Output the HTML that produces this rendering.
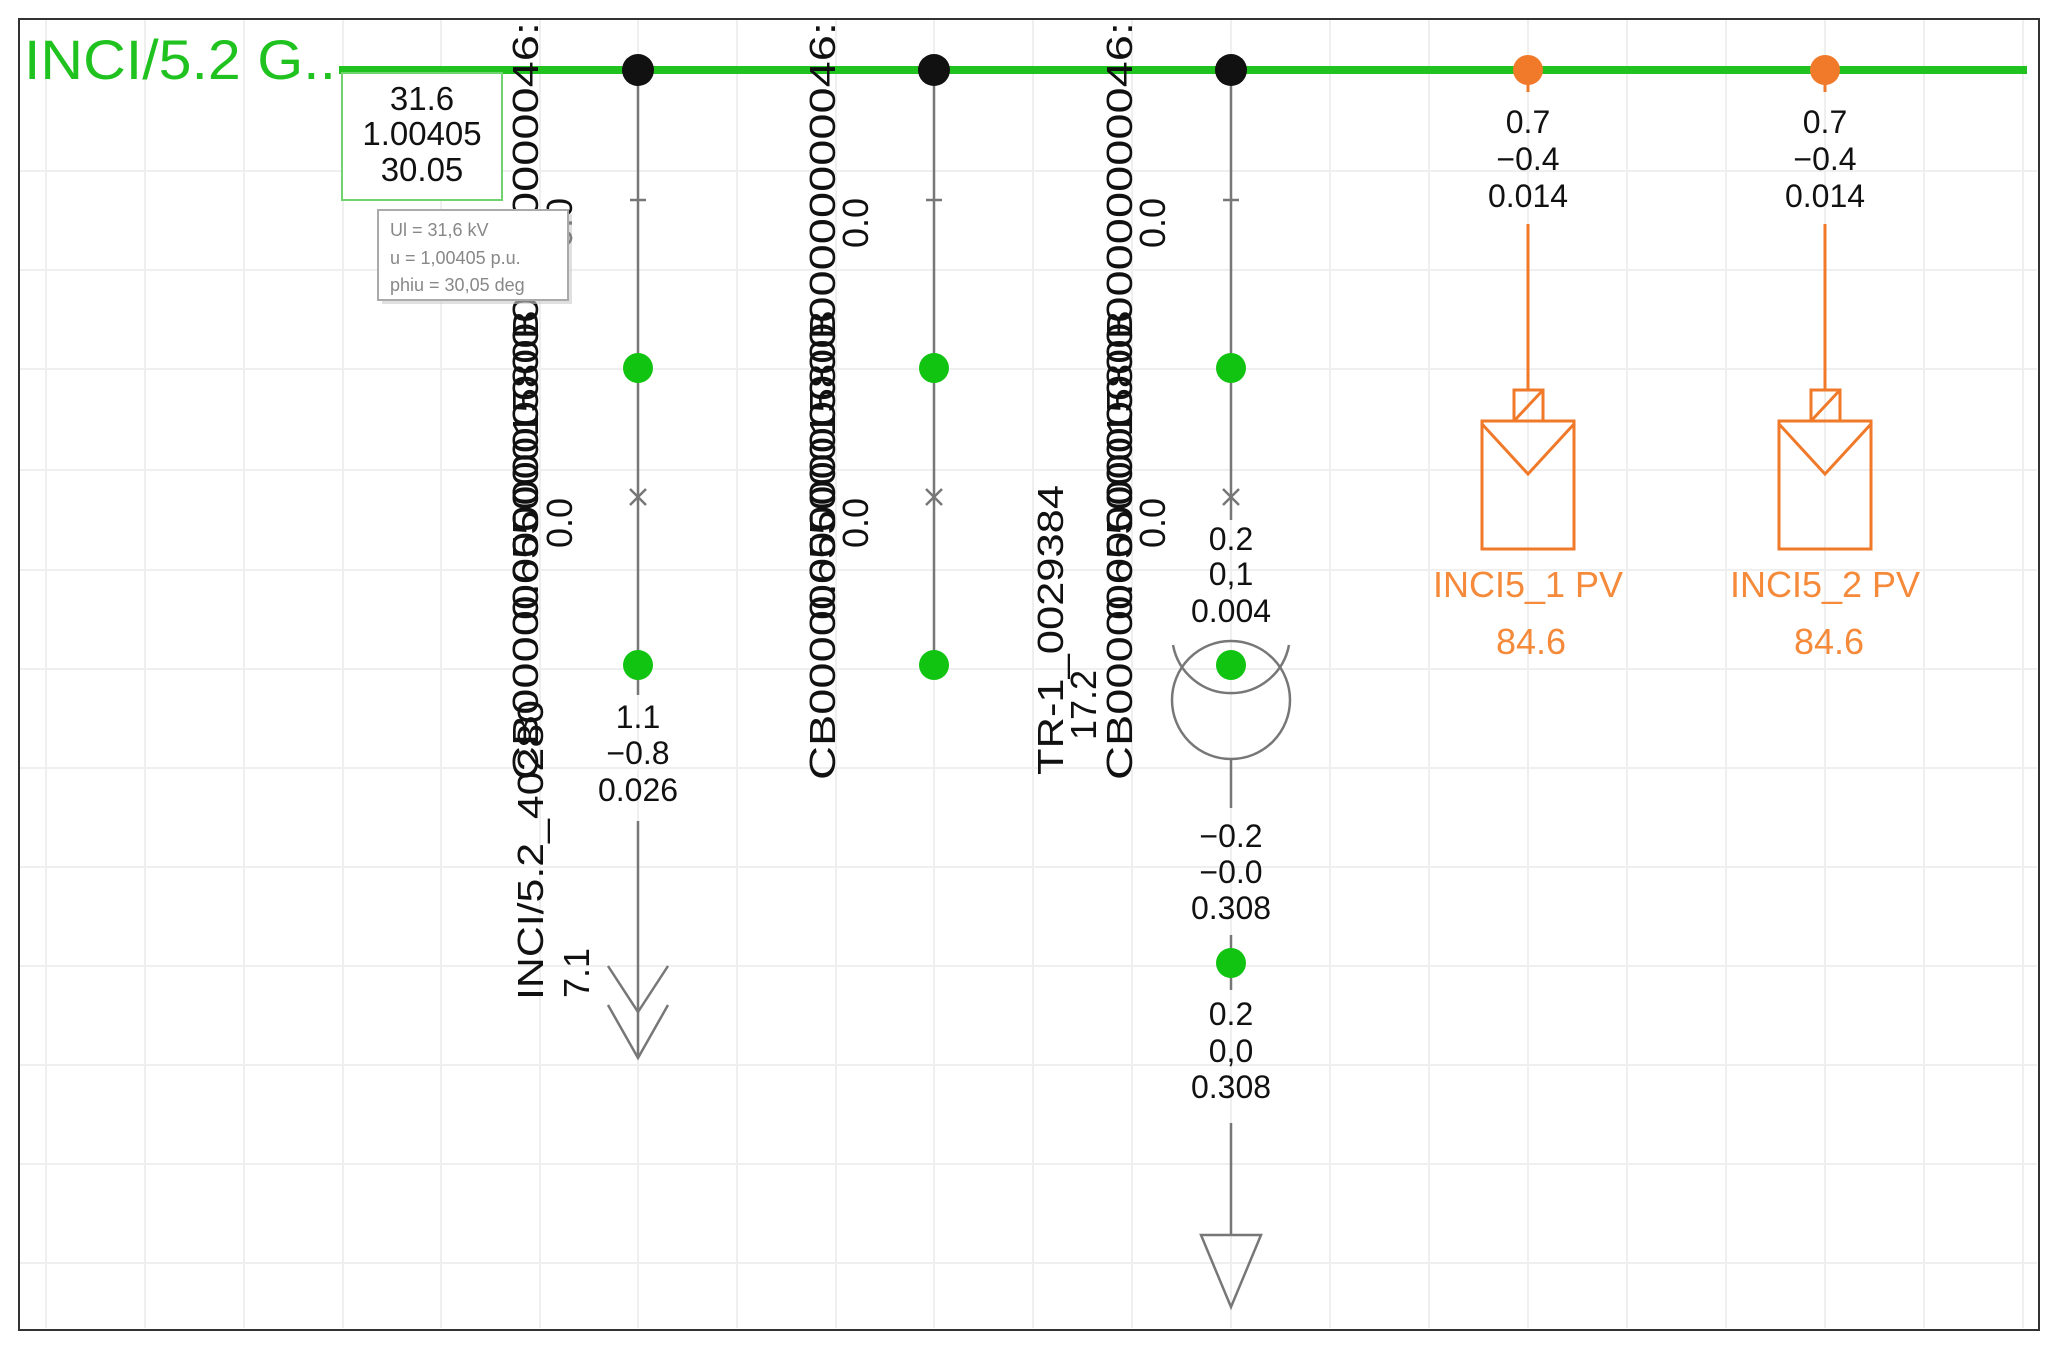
<!DOCTYPE html>
<html><head><meta charset="utf-8"><style>
html,body{margin:0;padding:0;background:#fff;}
svg{display:block;}
text{font-family:"Liberation Sans",sans-serif;}
</style></head><body>
<svg width="2060" height="1354" viewBox="0 0 2060 1354" xmlns="http://www.w3.org/2000/svg">
<rect width="2060" height="1354" fill="#fff"/>
<g stroke="#efefef" stroke-width="2">
<line x1="46" y1="20" x2="46" y2="1328"/><line x1="145" y1="20" x2="145" y2="1328"/><line x1="244" y1="20" x2="244" y2="1328"/><line x1="343" y1="20" x2="343" y2="1328"/><line x1="441" y1="20" x2="441" y2="1328"/><line x1="540" y1="20" x2="540" y2="1328"/><line x1="638" y1="20" x2="638" y2="1328"/><line x1="737" y1="20" x2="737" y2="1328"/><line x1="836" y1="20" x2="836" y2="1328"/><line x1="934" y1="20" x2="934" y2="1328"/><line x1="1033" y1="20" x2="1033" y2="1328"/><line x1="1132" y1="20" x2="1132" y2="1328"/><line x1="1231" y1="20" x2="1231" y2="1328"/><line x1="1330" y1="20" x2="1330" y2="1328"/><line x1="1429" y1="20" x2="1429" y2="1328"/><line x1="1528" y1="20" x2="1528" y2="1328"/><line x1="1627" y1="20" x2="1627" y2="1328"/><line x1="1726" y1="20" x2="1726" y2="1328"/><line x1="1825" y1="20" x2="1825" y2="1328"/><line x1="1924" y1="20" x2="1924" y2="1328"/><line x1="2023" y1="20" x2="2023" y2="1328"/>
<line x1="20" y1="171" x2="2037" y2="171"/><line x1="20" y1="270" x2="2037" y2="270"/><line x1="20" y1="369" x2="2037" y2="369"/><line x1="20" y1="470" x2="2037" y2="470"/><line x1="20" y1="570" x2="2037" y2="570"/><line x1="20" y1="669" x2="2037" y2="669"/><line x1="20" y1="768" x2="2037" y2="768"/><line x1="20" y1="867" x2="2037" y2="867"/><line x1="20" y1="966" x2="2037" y2="966"/><line x1="20" y1="1065" x2="2037" y2="1065"/><line x1="20" y1="1164" x2="2037" y2="1164"/><line x1="20" y1="1263" x2="2037" y2="1263"/>
</g>
<rect x="19" y="19" width="2020" height="1311" fill="none" stroke="#333" stroke-width="2"/>

<line x1="339" y1="70" x2="2027" y2="70" stroke="#1fc21f" stroke-width="8"/>
<text x="24" y="79" font-size="56" fill="#1fc21f" textLength="312" lengthAdjust="spacingAndGlyphs">INCI/5.2 G..</text>

<rect x="342" y="73" width="160" height="127" fill="#fff" stroke="#6fd36f" stroke-width="2"/>
<g font-size="33" fill="#111" text-anchor="middle">
<text x="422" y="110">31.6</text><text x="422" y="145">1.00405</text><text x="422" y="181">30.05</text>
</g>

<g font-size="36" fill="#111">
<text transform="translate(538,780) rotate(-90)" textLength="758" lengthAdjust="spacingAndGlyphs">CB00000000000000000000000046:</text>
<text transform="translate(538,620) rotate(-90)" textLength="310" lengthAdjust="spacingAndGlyphs">0.6550001580B</text>
<text transform="translate(572,248) rotate(-90)">0.0</text>
<text transform="translate(572,548) rotate(-90)">0.0</text>
<text transform="translate(835,780) rotate(-90)" textLength="758" lengthAdjust="spacingAndGlyphs">CB00000000000000000000000046:</text>
<text transform="translate(835,620) rotate(-90)" textLength="310" lengthAdjust="spacingAndGlyphs">0.6550001580B</text>
<text transform="translate(868,248) rotate(-90)">0.0</text>
<text transform="translate(868,548) rotate(-90)">0.0</text>
<text transform="translate(1132,780) rotate(-90)" textLength="758" lengthAdjust="spacingAndGlyphs">CB00000000000000000000000046:</text>
<text transform="translate(1132,620) rotate(-90)" textLength="310" lengthAdjust="spacingAndGlyphs">0.6550001580B</text>
<text transform="translate(1165,248) rotate(-90)">0.0</text>
<text transform="translate(1165,548) rotate(-90)">0.0</text>
<text transform="translate(1063,775) rotate(-90)" textLength="290" lengthAdjust="spacingAndGlyphs">TR-1_0029384</text>
<text transform="translate(1096,740) rotate(-90)">17.2</text>
<text transform="translate(543,1000) rotate(-90)" textLength="300" lengthAdjust="spacingAndGlyphs">INCI/5.2_40280</text>
<text transform="translate(589,998) rotate(-90)">7.1</text>
</g>

<rect x="382" y="214" width="190" height="90" fill="#ccc" opacity="0.6"/>
<rect x="378" y="210" width="190" height="90" fill="#fff" stroke="#aaa" stroke-width="2"/>
<g font-size="18" fill="#888">
<text x="390" y="236">Ul = 31,6 kV</text><text x="390" y="264">u = 1,00405 p.u.</text><text x="390" y="291">phiu = 30,05 deg</text>
</g>

<g stroke="#777" stroke-width="2.5" fill="none">
<line x1="638" y1="70" x2="638" y2="695"/>
<line x1="934" y1="70" x2="934" y2="665"/>
<line x1="1231" y1="70" x2="1231" y2="520"/>
<line x1="630" y1="200" x2="646" y2="200"/><line x1="926" y1="200" x2="942" y2="200"/><line x1="1223" y1="200" x2="1239" y2="200"/>
<path d="M630 489 L646 505 M646 489 L630 505"/><path d="M926 489 L942 505 M942 489 L926 505"/><path d="M1223 489 L1239 505 M1239 489 L1223 505"/>
<line x1="638" y1="821" x2="638" y2="1058"/>
<path d="M608 966 L638 1012 L668 966 M608 1005 L638 1058 L668 1005"/>
<path d="M1173 645 A59 59 0 0 0 1289 645"/>
<circle cx="1231" cy="700" r="59"/>
<line x1="1231" y1="759" x2="1231" y2="808"/>
<line x1="1231" y1="935" x2="1231" y2="990"/>
<line x1="1231" y1="1123" x2="1231" y2="1235"/>
<path d="M1201 1235 L1261 1235 L1231 1307 Z"/>
</g>
<g fill="#111">
<circle cx="638" cy="70" r="16"/><circle cx="934" cy="70" r="16"/><circle cx="1231" cy="70" r="16"/>
</g>
<g fill="#11c411">
<circle cx="638" cy="368" r="15"/><circle cx="934" cy="368" r="15"/><circle cx="1231" cy="368" r="15"/>
<circle cx="638" cy="665" r="15"/><circle cx="934" cy="665" r="15"/><circle cx="1231" cy="665" r="15"/>
<circle cx="1231" cy="963" r="15"/>
</g>

<g font-size="32" fill="#111" text-anchor="middle">
<text x="638" y="728">1.1</text><text x="638" y="764">−0.8</text><text x="638" y="801">0.026</text>
<text x="1231" y="550">0.2</text><text x="1231" y="585">0,1</text><text x="1231" y="622">0.004</text>
<text x="1231" y="847">−0.2</text><text x="1231" y="883">−0.0</text><text x="1231" y="919">0.308</text>
<text x="1231" y="1025">0.2</text><text x="1231" y="1062">0,0</text><text x="1231" y="1098">0.308</text>
<text x="1528" y="133">0.7</text><text x="1528" y="170">−0.4</text><text x="1528" y="207">0.014</text>
<text x="1825" y="133">0.7</text><text x="1825" y="170">−0.4</text><text x="1825" y="207">0.014</text>
</g>

<g stroke="#f07a2a" stroke-width="3" fill="none">
<line x1="1528" y1="82" x2="1528" y2="92"/><line x1="1825" y1="82" x2="1825" y2="92"/>
<line x1="1528" y1="224" x2="1528" y2="390"/><line x1="1825" y1="224" x2="1825" y2="390"/>
<rect x="1514" y="390" width="29" height="31"/><path d="M1514 421 L1543 390"/>
<rect x="1811" y="390" width="29" height="31"/><path d="M1811 421 L1840 390"/>
<rect x="1482" y="421" width="92" height="128"/><path d="M1482 424 L1528 474 L1574 424"/>
<rect x="1779" y="421" width="92" height="128"/><path d="M1779 424 L1825 474 L1871 424"/>
</g>
<g fill="#f07a2a">
<circle cx="1528" cy="70" r="15"/><circle cx="1825" cy="70" r="15"/>
</g>
<g font-size="36" fill="#f58a3a" text-anchor="middle">
<text x="1528" y="597">INCI5_1 PV</text><text x="1531" y="654">84.6</text>
<text x="1825" y="597">INCI5_2 PV</text><text x="1829" y="654">84.6</text>
</g>
</svg>
</body></html>
